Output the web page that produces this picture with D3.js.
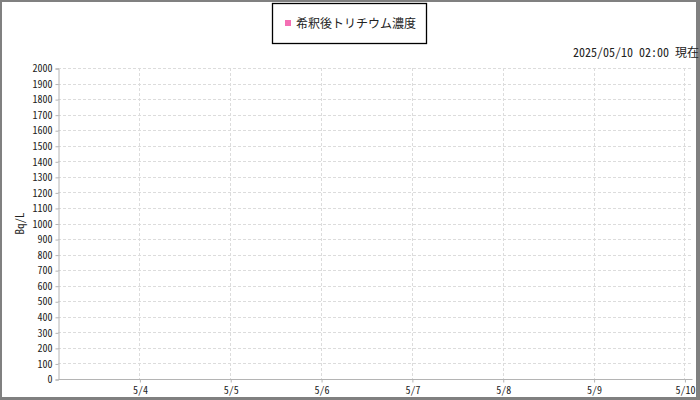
<!DOCTYPE html>
<html>
<head>
<meta charset="utf-8">
<script src="https://cdn.jsdelivr.net/npm/d3@7"></script>
<style>
  body { margin: 0; background: #fff; }
  text { fill: #222; }
</style>
</head>
<body>
<script>
// chart data
var seriesName = '希釈後トリチウム濃度';
var seriesTimes = [];   // no measurements shown in this period
var seriesValues = [];
var yTicks = [0, 100, 200, 300, 400, 500, 600, 700, 800, 900, 1000,
              1100, 1200, 1300, 1400, 1500, 1600, 1700, 1800, 1900, 2000];
var xTickDates = ['2025-05-04', '2025-05-05', '2025-05-06', '2025-05-07',
                  '2025-05-08', '2025-05-09', '2025-05-10'];
var xTickLabels = ['5/4', '5/5', '5/6', '5/7', '5/8', '5/9', '5/10'];
var timeRange = ['2025-05-03T02:30', '2025-05-10T02:00'];
var stampText = '2025/05/10 02:00 現在';
var yTitle = 'Bq/L';

function main() {
    var w = 700, h = 400;
    var left = 58, right = 692, top = 68, bottom = 379;
    var mono = '"Noto Sans Mono CJK JP", "DejaVu Sans Mono", monospace';
    var parse = d3.timeParse('%Y-%m-%dT%H:%M');
    var parseDay = d3.timeParse('%Y-%m-%d');

    var svg = d3.select('body').append('svg')
        .attr('width', w)
        .attr('height', h);

    var x = d3.scaleTime()
        .domain(timeRange.map(parse))
        .range([left, right]);
    var y = d3.scaleLinear()
        .domain([0, 2000])
        .range([bottom, top]);

    // frame round the page
    svg.append('rect').attr('x', 0).attr('y', 0).attr('width', 2).attr('height', h).attr('fill', '#808080');
    svg.append('rect').attr('x', 0).attr('y', 0).attr('width', w).attr('height', 2).attr('fill', '#808080');
    svg.append('rect').attr('x', 696).attr('y', 0).attr('width', 4).attr('height', h).attr('fill', '#808080');
    svg.append('rect').attr('x', 0).attr('y', 397).attr('width', w).attr('height', 3).attr('fill', '#808080');

    // grid
    svg.append('g').selectAll('line')
        .data(yTicks.slice(1))
        .enter().append('line')
        .attr('x1', left).attr('x2', right)
        .attr('y1', function(d) { return Math.round(y(d)) + 0.5; })
        .attr('y2', function(d) { return Math.round(y(d)) + 0.5; })
        .attr('stroke', '#dcdcdc')
        .attr('stroke-dasharray', '3,2');

    var days = xTickDates.map(parseDay);
    svg.append('g').selectAll('line')
        .data(days)
        .enter().append('line')
        .attr('x1', function(d) { return Math.round(x(d)) + 0.5; })
        .attr('x2', function(d) { return Math.round(x(d)) + 0.5; })
        .attr('y1', top).attr('y2', bottom)
        .attr('stroke', '#dcdcdc')
        .attr('stroke-dasharray', '3,2');

    // axes
    var yAxis = d3.axisLeft(y).tickValues(yTicks).tickSize(3).tickPadding(3)
        .tickFormat(d3.format('d'));
    var gy = svg.append('g')
        .attr('transform', 'translate(' + (left + 0.5) + ',0.5)')
        .call(yAxis);
    var xAxis = d3.axisBottom(x).tickValues(days).tickSize(3).tickPadding(4)
        .tickFormat(function(d, i) { return xTickLabels[i]; });
    var gx = svg.append('g')
        .attr('transform', 'translate(0.5,' + (bottom + 0.5) + ')')
        .call(xAxis);
    gx.select('.domain').attr('d', 'M' + (left) + ',0H' + (right));

    [gx, gy].forEach(function(g) {
        g.selectAll('.domain').attr('stroke', '#b4b4b4');
        g.selectAll('.tick line').attr('stroke', '#b4b4b4');
        g.selectAll('.tick text')
            .attr('font-family', mono)
            .attr('font-size', '10px')
            .attr('fill', '#222');
    });

    // series line (empty here)
    var line = d3.line()
        .x(function(d, i) { return x(parse(seriesTimes[i])); })
        .y(function(d) { return y(d); });
    svg.append('path')
        .datum(seriesValues)
        .attr('d', line)
        .attr('fill', 'none')
        .attr('stroke', '#f46fb4');

    // y title
    svg.append('text')
        .attr('transform', 'translate(24,' + ((top + bottom) / 2) + ') rotate(-90)')
        .attr('text-anchor', 'middle')
        .attr('font-family', mono)
        .attr('font-size', '11px')
        .text(yTitle);

    // stamp
    svg.append('text')
        .attr('x', 699)
        .attr('y', 57)
        .attr('text-anchor', 'end')
        .attr('font-family', mono)
        .attr('font-size', '12px')
        .text(stampText);

    // legend
    var lg = svg.append('g');
    lg.append('rect')
        .attr('x', 272.5).attr('y', 3.5)
        .attr('width', 154).attr('height', 40)
        .attr('fill', '#fff')
        .attr('stroke', '#000')
        .attr('stroke-width', 1.3);
    lg.append('rect')
        .attr('x', 285).attr('y', 20)
        .attr('width', 6).attr('height', 6)
        .attr('fill', '#f46fb4');
    lg.append('text')
        .attr('x', 296)
        .attr('y', 28)
        .attr('font-family', '"Noto Sans CJK JP", sans-serif')
        .attr('font-size', '12px')
        .attr('fill', '#222')
        .text(seriesName);
}

main();
</script>
</body>
</html>
